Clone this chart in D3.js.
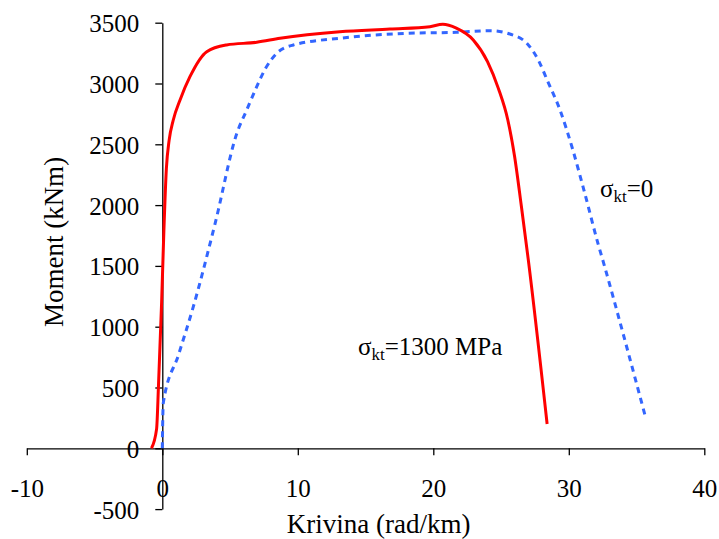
<!DOCTYPE html>
<html><head><meta charset="utf-8">
<script src="https://cdn.jsdelivr.net/npm/d3@7/dist/d3.min.js"></script>
<style>
html,body{margin:0;padding:0;background:#fff;}
svg text{font-family:"Liberation Serif","Times New Roman",serif;fill:#000;}
</style></head>
<body>
<svg id="chart" width="719" height="539"></svg>
<script>
// Data: curvature (rad/km) vs moment (kNm)
const redKappa = [-0.8, -0.42, -0.28, -0.05, 0.12, 0.3, 0.5, 0.81, 1.31, 2.04, 3.28, 4.75, 6.97, 8.69, 13.1, 16.8, 19.75, 20.7, 21.7, 22.95, 24.0, 24.8, 25.5, 26.0, 26.5, 27.0, 28.4];
const redMoment = [0, 160, 520, 1200, 1800, 2300, 2530, 2700, 2865, 3056, 3262, 3317, 3339, 3372, 3426, 3448, 3467, 3487, 3455, 3358, 3180, 2960, 2700, 2400, 1990, 1560, 200];
const blueKappa = [0, 0.07, 1.2, 2.29, 3.9, 5.5, 6.23, 6.97, 7.6, 8.44, 9.67, 13.1, 18.0, 21.7, 24.2, 25.7, 26.9, 27.75, 28.4, 29.35, 30.3, 31.1, 32.15, 32.65, 34.0, 35.7];
const blueMoment = [0, 370, 770, 1165, 1850, 2590, 2782, 2974, 3120, 3248, 3317, 3372, 3413, 3421, 3434, 3405, 3331, 3193, 3029, 2782, 2453, 2130, 1686, 1493, 946, 240];
const xTicks = [-10, 0, 10, 20, 30, 40];
const yTicks = [-500, 0, 500, 1000, 1500, 2000, 2500, 3000, 3500];
const xTitle = "Krivina (rad/km)";
const yTitle = "Moment (kNm)";

const svg = d3.select("#chart");
const x = d3.scaleLinear().domain([-10, 40]).range([26.8, 704.3]);
const y = d3.scaleLinear().domain([-500, 3500]).range([509.1, 22.7]);
const fmt = d => String(d);

// y axis at x=0
const yAxis = svg.append("g").attr("transform", `translate(${x(0)},0)`)
  .call(d3.axisLeft(y).tickValues(yTicks).tickSize(7).tickSizeOuter(0).tickPadding(16).tickFormat(fmt));
yAxis.selectAll("text").style("font-size", "25px").attr("dy", "0.36em");
// x axis at y=0; labels sit at the bottom of the plot area
const xAxis = svg.append("g").attr("transform", `translate(0,${y(0)})`)
  .call(d3.axisBottom(x).tickValues(xTicks).tickSize(7).tickSizeOuter(0).tickFormat(fmt));
xAxis.selectAll("text").style("font-size", "25px").attr("y", y(-500) - y(0) - 12).attr("dy", "0");
svg.selectAll(".domain, .tick line").attr("stroke", "#000").attr("stroke-width", 1.3);
svg.selectAll(".tick text").style("font-family", "Liberation Serif, Times New Roman, serif");

const line = d3.line().x(d => x(d[0])).y(d => y(d[1])).curve(d3.curveMonotoneX);
const red = redKappa.map((k, i) => [k, redMoment[i]]);
const blue = blueKappa.map((k, i) => [k, blueMoment[i]]);

svg.append("path").attr("d", line(blue)).attr("fill", "none")
  .attr("stroke", "#3366ff").attr("stroke-width", 3).attr("stroke-dasharray", "6,5");
svg.append("path").attr("d", line(red)).attr("fill", "none")
  .attr("stroke", "#ff0000").attr("stroke-width", 3);

// axis titles
svg.append("text").attr("x", (x(-10) + x(40)) / 2 + 13).attr("y", 533)
  .attr("text-anchor", "middle").style("font-size", "27px").text(xTitle);
svg.append("text").attr("transform", `translate(63,${242}) rotate(-90)`)
  .attr("text-anchor", "middle").style("font-size", "27px").text(yTitle);

// annotations
function label(xp, yp, rest) {
  const t = svg.append("text").attr("x", xp).attr("y", yp).style("font-size", "25px");
  t.append("tspan").text("σ");
  t.append("tspan").attr("dy", 5).style("font-size", "17px").text("kt");
  t.append("tspan").attr("dy", -5).text(rest);
}
label(358, 355, "=1300 MPa");
label(600, 197, "=0");
</script>
</body></html>
